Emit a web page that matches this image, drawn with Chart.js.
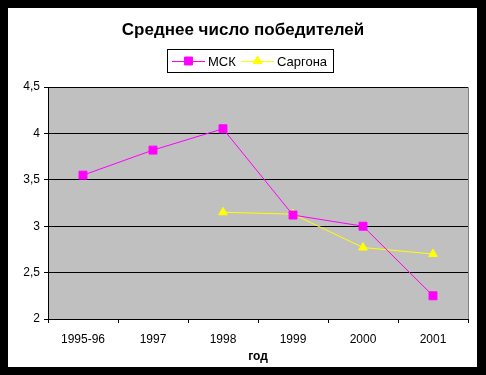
<!DOCTYPE html>
<html lang="ru">
<head>
  <meta charset="UTF-8" />
  <title>Среднее число победителей</title>
  <script src="https://cdn.jsdelivr.net/npm/chart.js"></script>
  <style>
    html, body {
      margin: 0;
      padding: 0;
      background: #000;
    }
    #wrap {
      position: absolute;
      left: 8px;
      top: 8px;
      width: 469px;
      height: 359px;
      background: #fff;
    }
  </style>
</head>
<body>
  <div id="wrap"><canvas id="grafico" width="469" height="359"></canvas></div>

  <script>
    const titulo = "Среднее число победителей";
    const anios = ["1995-96", "1997", "1998", "1999", "2000", "2001"];
    const msk = [3.55, 3.82, 4.05, 3.12, 3.0, 2.25];
    const sargona = [null, null, 3.15, 3.13, 2.77, 2.7];
    const ejeX = "год";

    // fondo gris del area de trazado y borde superior/derecho
    const fondoPlot = {
      id: "fondoPlot",
      beforeDraw(chart) {
        const a = chart.chartArea;
        const ctx = chart.ctx;
        ctx.save();
        ctx.fillStyle = "#c0c0c0";
        ctx.fillRect(a.left, a.top, a.right - a.left, a.bottom - a.top);
        ctx.strokeStyle = "#808080";
        ctx.lineWidth = 1;
        ctx.beginPath();
        ctx.moveTo(a.left, a.top + 0.5);
        ctx.lineTo(a.right + 0.5, a.top + 0.5);
        ctx.lineTo(a.right + 0.5, a.bottom);
        ctx.stroke();
        ctx.restore();
      }
    };

    // titulo y leyenda con recuadro
    const tituloLeyenda = {
      id: "tituloLeyenda",
      afterDraw(chart) {
        const ctx = chart.ctx;
        ctx.save();
        ctx.fillStyle = "#000";
        ctx.font = "bold 17px Arial, 'Liberation Sans', sans-serif";
        ctx.textAlign = "center";
        ctx.textBaseline = "middle";
        ctx.fillText(titulo, 235, 22);

        ctx.strokeStyle = "#000";
        ctx.lineWidth = 1;
        ctx.strokeRect(159.5, 41.5, 166, 23);

        ctx.font = "13px Arial, 'Liberation Sans', sans-serif";
        ctx.textAlign = "left";
        const items = [{ x: 164, tx: 200 }, { x: 233, tx: 269 }];
        chart.data.datasets.forEach((ds, i) => {
          const it = items[i];
          const y = 53;
          ctx.strokeStyle = ds.borderColor;
          ctx.beginPath();
          ctx.moveTo(it.x, y + 0.5);
          ctx.lineTo(it.x + 33, y + 0.5);
          ctx.stroke();
          ctx.fillStyle = ds.backgroundColor;
          ctx.strokeStyle = ds.borderColor;
          Chart.helpers.drawPoint(ctx, {
            pointStyle: ds.pointStyle,
            radius: ds.pointRadius,
            borderWidth: 1
          }, it.x + 16.5, y);
          ctx.fillStyle = "#000";
          ctx.fillText(ds.label, it.tx, y + 1);
        });
        ctx.restore();
      }
    };

    new Chart(document.getElementById("grafico"), {
      type: "line",
      data: {
        labels: anios,
        datasets: [
          {
            label: "МСК",
            data: msk,
            borderColor: "#ff00ff",
            backgroundColor: "#ff00ff",
            borderWidth: 1,
            pointStyle: "rect",
            pointRadius: 5.6,
            pointBorderWidth: 1,
            tension: 0
          },
          {
            label: "Саргона",
            data: sargona,
            borderColor: "#ffff00",
            backgroundColor: "#ffff00",
            borderWidth: 1,
            pointStyle: "triangle",
            pointRadius: 5,
            pointBorderWidth: 1,
            tension: 0
          }
        ]
      },
      options: {
        responsive: false,
        animation: false,
        devicePixelRatio: 1,
        layout: { padding: { top: 79, right: 9, left: 0, bottom: 0 } },
        plugins: {
          legend: { display: false },
          title: { display: false },
          tooltip: { enabled: false }
        },
        scales: {
          x: {
            offset: true,
            afterFit(scale) { scale.height = 48; },
            grid: {
              offset: true,
              drawOnChartArea: false,
              drawTicks: true,
              tickLength: 4,
              color: "#000"
            },
            border: { color: "#000", width: 1 },
            ticks: {
              color: "#000",
              font: { family: "Arial, 'Liberation Sans', sans-serif", size: 12 },
              padding: 9,
              maxRotation: 0
            },
            title: {
              display: true,
              text: ejeX,
              color: "#000",
              font: { family: "Arial, 'Liberation Sans', sans-serif", size: 12, weight: "bold" },
              padding: { top: 0, bottom: 3 }
            }
          },
          y: {
            min: 2,
            max: 4.5,
            afterFit(scale) { scale.width = 40; },
            grid: {
              color: "#000",
              tickLength: 4
            },
            border: { color: "#000", width: 1 },
            ticks: {
              stepSize: 0.5,
              color: "#000",
              padding: 4,
              font: { family: "Arial, 'Liberation Sans', sans-serif", size: 12 },
              callback: v => String(v).replace(".", ",")
            }
          }
        }
      },
      plugins: [fondoPlot, tituloLeyenda]
    });
  </script>
</body>
</html>
